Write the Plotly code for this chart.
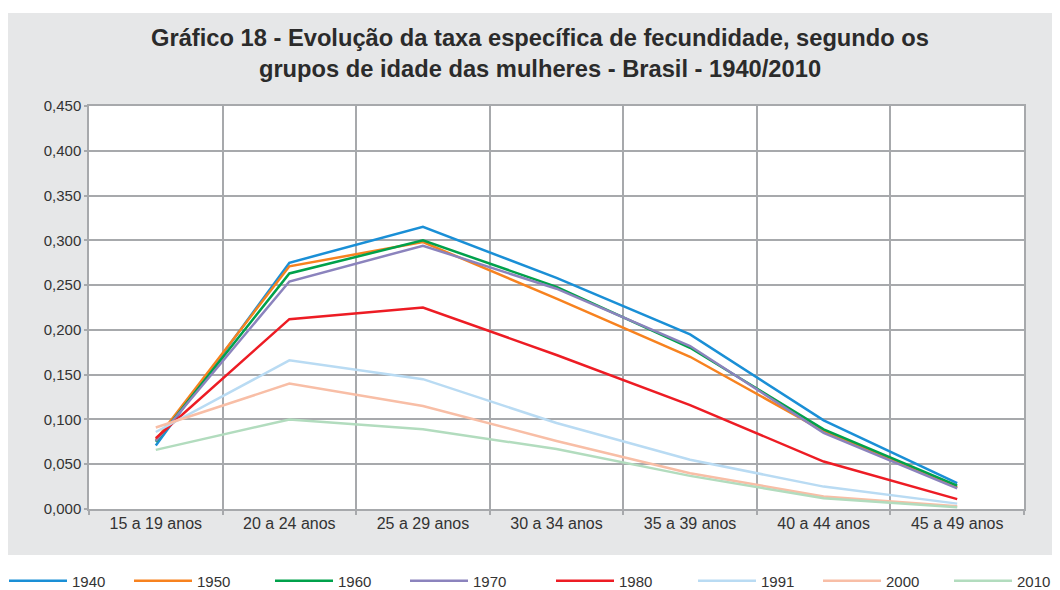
import plotly.graph_objects as go

categories = ["15 a 19 anos", "20 a 24 anos", "25 a 29 anos", "30 a 34 anos",
              "35 a 39 anos", "40 a 44 anos", "45 a 49 anos"]

years = ["1940", "1950", "1960", "1970", "1980", "1991", "2000", "2010"]

v1940 = [0.071, 0.275, 0.315, 0.258, 0.195, 0.099, 0.029]
v1950 = [0.077, 0.271, 0.298, 0.235, 0.170, 0.087, 0.024]
v1960 = [0.075, 0.263, 0.300, 0.248, 0.180, 0.089, 0.026]
v1970 = [0.076, 0.254, 0.294, 0.246, 0.182, 0.085, 0.023]
v1980 = [0.079, 0.212, 0.225, 0.172, 0.116, 0.053, 0.011]
v1991 = [0.086, 0.166, 0.145, 0.096, 0.055, 0.025, 0.006]
v2000 = [0.091, 0.140, 0.115, 0.076, 0.040, 0.014, 0.003]
v2010 = [0.066, 0.100, 0.089, 0.067, 0.037, 0.012, 0.002]

series = [v1940, v1950, v1960, v1970, v1980, v1991, v2000, v2010]
colors = ["#1a8fd6", "#f7821f", "#00a14b", "#8b83bd", "#ed1c24",
          "#b9dbf3", "#f8bea6", "#b2dcbe"]

title_text = ("<b>Gráfico 18 - Evolução da taxa específica de fecundidade, segundo os<br>"
              "grupos de idade das mulheres - Brasil - 1940/2010</b>")

FONT = "Liberation Sans, Arial, sans-serif"

# page body adds an 8px offset; figure sized so that it fills the window
W, H = 1052, 582
L, R, T, B = 81, 36, 98, 81
pw, ph = W - L - R, H - T - B

def px_x(p):
    return (p - L) / pw

def px_y(p):
    return (H - B - p) / ph

# figure-pixel x where each legend entry begins
legend_px = [-4, 121, 262, 397, 543, 685, 810, 941]

fig = go.Figure()
legend_layouts = {}
for i, (name, vals, col) in enumerate(zip(years, series, colors)):
    lname = "legend" if i == 0 else "legend%d" % (i + 1)
    fig.add_trace(go.Scatter(x=categories, y=vals, name=name, mode="lines",
                             line=dict(color=col, width=2.5), legend=lname))
    legend_layouts[lname] = dict(
        orientation="h", x=px_x(legend_px[i]), xanchor="left",
        y=px_y(573), yanchor="middle",
        itemwidth=58, font=dict(family=FONT, size=15, color="#333333"),
        bgcolor="rgba(0,0,0,0)")

shapes = [
    dict(type="rect", xref="paper", yref="paper",
         x0=px_x(0), x1=px_x(W + 4), y0=px_y(547), y1=px_y(5),
         fillcolor="#e6e7e8", line=dict(width=0), layer="below"),
    dict(type="rect", xref="paper", yref="paper",
         x0=0, x1=1, y0=0, y1=1,
         fillcolor="white", line=dict(width=0), layer="below"),
]

annotations = [dict(text=title_text, xref="paper", yref="paper",
                    x=px_x(532), y=px_y(46), xanchor="center", yanchor="middle",
                    showarrow=False, align="center",
                    font=dict(family=FONT, size=23.7, color="#2b2b2b"))]

fig.update_layout(
    width=W, height=H,
    margin=dict(l=L, r=R, t=T, b=B, autoexpand=False),
    paper_bgcolor="white",
    plot_bgcolor="white",
    separators=",.",
    font=dict(family=FONT, size=15, color="#333333"),
    shapes=shapes,
    annotations=annotations,
    showlegend=True,
    **legend_layouts,
)

fig.update_xaxes(type="category", range=[-0.5, 6.5], tickson="boundaries",
                 showgrid=True, gridcolor="#a7a9ac", gridwidth=1.5,
                 showline=True, linecolor="#a7a9ac", linewidth=1.5, mirror=True,
                 ticks="outside", ticklen=4, tickcolor="#a7a9ac", tickwidth=1.5,
                 ticklabelstandoff=-1,
                 tickfont=dict(size=16, color="#333333"), zeroline=False)
fig.update_yaxes(range=[0, 0.45], dtick=0.05, tickformat=".3f",
                 showgrid=True, gridcolor="#a7a9ac", gridwidth=1.5,
                 showline=True, linecolor="#a7a9ac", linewidth=1.5, mirror=True,
                 ticks="outside", ticklen=3, tickcolor="#a7a9ac", tickwidth=1.5,
                 tickfont=dict(size=15, color="#333333"), zeroline=False)

fig.write_html("out.html")
